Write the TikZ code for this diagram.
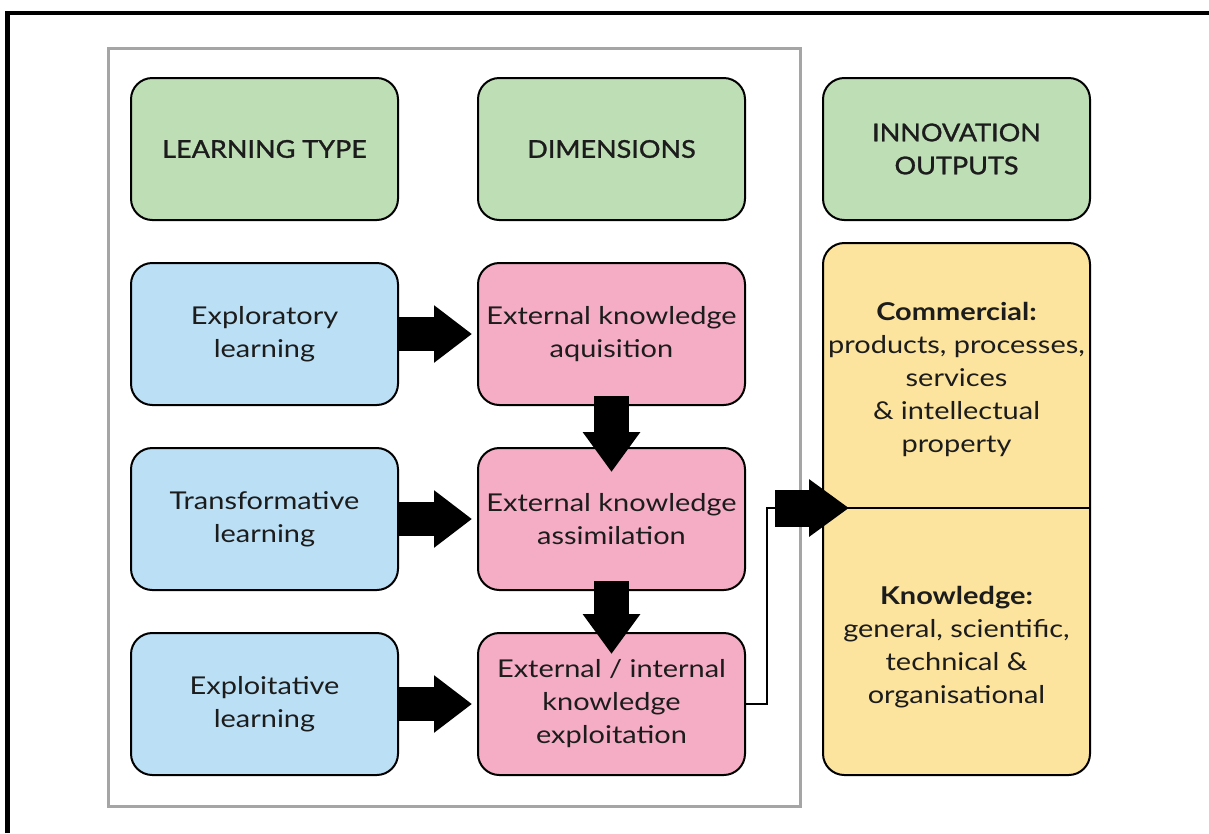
\documentclass[tikz,border=0pt]{standalone}
\usepackage{fontspec}
\setmainfont{Lato}[FakeStretch=1.18]
\newfontfamily\headfont[FakeBold=1.2,FakeStretch=1.1]{Lato}
\usetikzlibrary{arrows.meta}

\definecolor{hdrgreen}{RGB}{190,222,181}
\definecolor{typeblue}{RGB}{187,223,245}
\definecolor{dimpink}{RGB}{244,173,196}
\definecolor{outyellow}{RGB}{252,228,158}
\definecolor{framegray}{RGB}{165,165,165}
\definecolor{inkdark}{RGB}{28,28,28}

\tikzset{
  roundbox/.style={draw=black, line width=1.5pt, rounded corners=16pt,
    minimum width=200.25pt, minimum height=106.5pt, inner sep=0pt,
    align=center, text=inkdark, font=\fontsize{18.4}{24.75}\selectfont},
  headbox/.style={roundbox, fill=hdrgreen, font=\headfont\fontsize{18.4}{24.75}\selectfont},
  typebox/.style={roundbox, fill=typeblue},
  dimbox/.style={roundbox, fill=dimpink},
  outbox/.style={roundbox, fill=outyellow, minimum height=399pt},
  outtext/.style={align=center, inner sep=0pt, text=inkdark,
    font=\fontsize{18.4}{24.75}\selectfont},
  harrow/.style={line width=25.5pt, -{Triangle[length=28.5pt,width=41.25pt]}},
  varrow/.style={line width=26.25pt, -{Triangle[length=30pt,width=41.25pt]}},
  link/.style={line width=1.1pt},
}

\begin{document}
\begin{tikzpicture}[x=0.75pt,y=-0.75pt]
\useasboundingbox (0,0) rectangle (1209,833);

% outer frame (top and left edges)
\draw[line width=3.4pt] (7.5,833) -- (7.5,13) -- (1209,13);

% grey frame around the learning columns
\draw[framegray, line width=2.25pt] (108.5,48) rectangle (800,806);

% column headers
\node[headbox] (hLearn) at (264.5,149) {LEARNING TYPE};
\node[headbox] (hDim)   at (611.5,149) {DIMENSIONS};
\node[headbox] (hOut)   at (956.5,149) {INNOVATION\\OUTPUTS};

% learning types
\node[typebox] (t1) at (264.5,334) {Exploratory\\learning};
\node[typebox] (t2) at (264.5,519) {Transformative\\learning};
\node[typebox] (t3) at (264.5,704) {Exploitative\\learning};

% dimensions
\node[dimbox] (d1) at (611.5,334) {External knowledge\\aquisition};
\node[dimbox] (d2) at (611.5,519) {External knowledge\\assimilation};
\node[dimbox] (d3) at (611.5,704) {External / internal\\knowledge\\exploitation};

% innovation outputs
\node[outbox] (out) at (956.5,509) {};
\node[outtext] (comm) at (956.5,379) {{\bfseries Commercial:}\\products, processes,\\services\\\& intellectual\\property};
\node[outtext] (know) at (956.5,647) {{\bfseries Knowledge:}\\general, scientific,\\technical \&\\organisational};

% thin connector from exploitation to the outputs, continuing as divider
\coordinate (split) at (767,508);
\draw[link] (d3.east) -| (split) -- (split -| out.east);

% block arrows
\draw[harrow] (t1.east) -- ([xshift=-3.75pt]d1.west);
\draw[harrow] (t2.east) -- ([xshift=-3.75pt]d2.west);
\draw[harrow] (t3.east) -- ([xshift=-3.75pt]d3.west);
\draw[varrow] ([yshift=7.5pt]d1.south) -- ([yshift=-18.75pt]d2.north);
\draw[varrow] ([yshift=7.5pt]d2.south) -- ([yshift=-16.5pt]d3.north);
\path (split -| out.west) coordinate (outedge);
\draw[line width=27.75pt, -{Triangle[length=30pt,width=41.25pt]}]
  ([xshift=6pt]split) -- ([xshift=20.25pt]outedge);
\end{tikzpicture}
\end{document}
